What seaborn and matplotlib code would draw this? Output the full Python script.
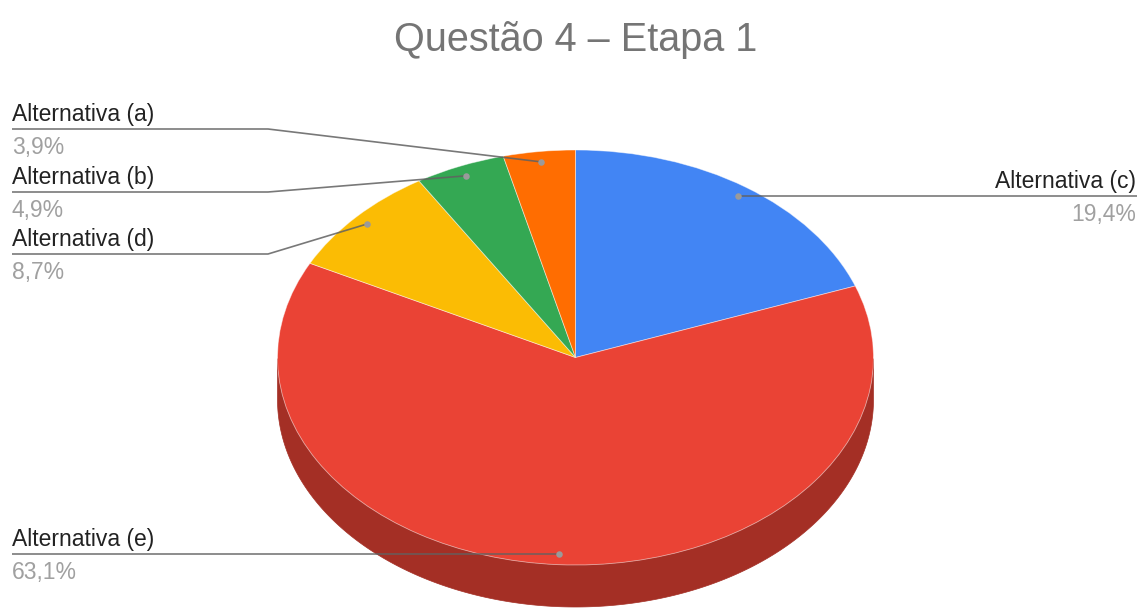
import numpy as np
import matplotlib
matplotlib.use("Agg")
import matplotlib.pyplot as plt
from matplotlib.patches import Polygon
import seaborn as sns

# Answer shares, in drawing order (clockwise from 12 o'clock)
categories = ["Alternativa (c)", "Alternativa (e)", "Alternativa (d)",
              "Alternativa (b)", "Alternativa (a)"]
shares = [19.4, 63.1, 8.7, 4.9, 3.9]
share_labels = ["19,4%", "63,1%", "8,7%", "4,9%", "3,9%"]
colors = ["#4285F4", "#EA4335", "#FBBC04", "#34A853", "#FF6D01"]
title = "Questão 4 – Etapa 1"

sns.set_theme(style="white")
plt.rcParams["font.family"] = ["Liberation Sans", "DejaVu Sans"]
palette = sns.color_palette(colors)

W, H = 1140, 608
fig = plt.figure(figsize=(W / 100, H / 100), dpi=100)
ax = fig.add_axes([0, 0, 1, 1])

# ellipse geometry of the tilted disc (pixels)
cx, cy, rx, ry, depth = 575.5, 357.5, 298.0, 207.5, 42.0

def to_data(px, py):
    return (px - cx) / rx, (cy - py) / ry

wedges, _ = ax.pie(shares, colors=palette, startangle=90, counterclock=False,
                   radius=1.0, center=(0, 0),
                   wedgeprops=dict(linewidth=0.6, edgecolor=(1, 1, 1, 0.5), zorder=3))
ax.set_aspect("auto")
ax.set_xlim(-cx / rx, (W - cx) / rx)
ax.set_ylim(-(H - cy) / ry, cy / ry)
ax.axis("off")

# side wall of the disc: visible part is the lower half
d = depth / ry
for w, col in zip(wedges, palette):
    t1, t2 = sorted((w.theta1, w.theta2))
    t = np.linspace(t1, t2, 400)
    t = t[np.sin(np.radians(t)) <= 0]
    if len(t) < 2:
        continue
    xs = np.cos(np.radians(t))
    ys = np.sin(np.radians(t))
    dark = tuple(c * 0.7 for c in col)
    pts = np.concatenate([np.column_stack([xs, ys]),
                          np.column_stack([xs[::-1], ys[::-1] - d])])
    ax.add_patch(Polygon(pts, closed=True, facecolor=dark, edgecolor=dark,
                         linewidth=0.5, zorder=2))

# leader dots at each slice's mid angle
dots = []
for w in wedges:
    mid = np.radians((w.theta1 + w.theta2) / 2)
    dots.append((0.95 * np.cos(mid), 0.95 * np.sin(mid)))

line_col = "#616161"
dot_col = "#9a9a9a"
fs_name = 16.5
fs_pct = 16.5

def draw_label(i, side, line_py, elbow_px=None):
    dx, dy = dots[i]
    _, ly = to_data(0, line_py)
    if side == "left":
        x0, _ = to_data(12, 0)
        xe = to_data(elbow_px, 0)[0] if elbow_px else dx
        ax.plot([x0, xe, dx], [ly, ly, dy], color=line_col, lw=1.2,
                alpha=0.85, zorder=5, solid_capstyle="butt")
        tx, ha = 12, "left"
    else:
        x1, _ = to_data(1137, 0)
        ax.plot([dx, x1], [dy, ly], color=line_col, lw=1.2, alpha=0.85,
                zorder=5, solid_capstyle="butt")
        tx, ha = 1136, "right"
    ax.scatter([dx], [dy], s=22, color=dot_col, zorder=6, linewidths=0)
    fig.text(tx / W, 1 - (line_py - 8) / H, categories[i], ha=ha,
             va="baseline", fontsize=fs_name, color="#222222")
    fig.text(tx / W, 1 - (line_py + 25) / H, share_labels[i], ha=ha,
             va="baseline", fontsize=fs_pct, color="#a0a0a0")

# c on the right, level with its dot
c_py = cy - dots[0][1] * ry
draw_label(0, "right", c_py)
# e bottom-left, level with its dot
e_py = cy - dots[1][1] * ry
draw_label(1, "left", e_py)
# stacked labels on the upper left
draw_label(4, "left", 129, elbow_px=268)
draw_label(3, "left", 192, elbow_px=268)
draw_label(2, "left", 254, elbow_px=268)

fig.text(576 / W, 1 - 40 / H, title, ha="center", va="center",
         fontsize=28.5, color="#757575")

fig.savefig("out.png", dpi=100, facecolor="white")
